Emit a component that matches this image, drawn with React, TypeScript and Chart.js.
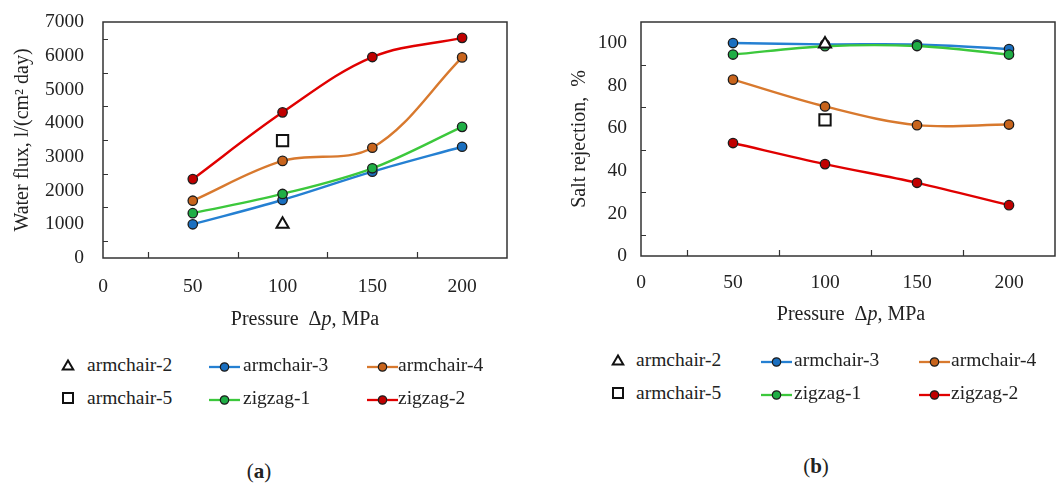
import React, { useEffect, useRef } from 'react';
import { Chart, registerables } from 'chart.js';

Chart.register(...registerables);

const FONT = "'Liberation Serif', 'Times New Roman', serif";
const TEXT = '#222222';
const FRAME = '#333333';

// ---------- data ----------
const pressure = [50, 100, 150, 200];
const singlePressure = [100];
const seriesNames = ['armchair-2', 'armchair-3', 'armchair-4', 'armchair-5', 'zigzag-1', 'zigzag-2'];

// (a) water flux, l/(cm2 day)
const fluxArmchair2 = [1000];
const fluxArmchair5 = [3480];
const fluxArmchair3 = [1000, 1720, 2560, 3300];
const fluxArmchair4 = [1700, 2880, 3270, 5950];
const fluxZigzag1 = [1330, 1900, 2660, 3890];
const fluxZigzag2 = [2340, 4320, 5960, 6530];

// (b) salt rejection, %
const rejArmchair2 = [99.7];
const rejArmchair5 = [64.0];
const rejArmchair3 = [100.1, 99.5, 99.4, 97.3];
const rejArmchair4 = [82.9, 70.3, 61.5, 61.8];
const rejZigzag1 = [94.7, 98.6, 98.7, 94.7];
const rejZigzag2 = [53.1, 43.2, 34.4, 23.9];

// colours
const lineColors = { a3: '#2580d2', a4: '#d8792e', z1: '#3cc83c', z2: '#e00000' };
const markerColors = { a3: '#1a6fc0', a4: '#c8641c', z1: '#1fae45', z2: '#c00000' };

const toPts = (xs: number[], ys: number[]) => ys.map((y, i) => ({ x: xs[i], y }));

function lineDs(label: string, ys: number[], color: string, marker: string) {
  return {
    label,
    data: toPts(pressure, ys),
    showLine: true,
    borderColor: color,
    backgroundColor: marker,
    borderWidth: 2.4,
    tension: 0.35,
    fill: false,
    pointRadius: 4.7,
    pointStyle: 'circle',
    pointBackgroundColor: marker,
    pointBorderColor: '#1c1c1c',
    pointBorderWidth: 1.3,
  };
}

function markerDs(label: string, ys: number[], style: string, radius: number) {
  return {
    label,
    data: toPts(singlePressure, ys),
    showLine: false,
    borderColor: '#111',
    backgroundColor: '#fff',
    pointStyle: style,
    pointRadius: radius,
    pointBackgroundColor: '#fff',
    pointBorderColor: '#111',
    pointBorderWidth: 2,
  };
}

const framePlugin = {
  id: 'frame',
  beforeDatasetsDraw(chart: any, _args: any, opts: any) {
    const { ctx, chartArea: a, scales } = chart;
    ctx.save();
    ctx.strokeStyle = FRAME;
    ctx.lineWidth = 1.5;
    ctx.strokeRect(a.left, a.top, a.right - a.left, a.bottom - a.top);
    ctx.lineWidth = 1.2;
    ctx.beginPath();
    const xs = scales.x;
    for (let v = opts.xMinorStart; v < xs.max; v += opts.xMinorStep) {
      const px = Math.round(xs.getPixelForValue(v)) + 0.5;
      ctx.moveTo(px, a.bottom);
      ctx.lineTo(px, a.bottom - 6);
    }
    const ys = scales.y;
    for (let v = opts.yMinorStart; v < ys.max; v += opts.yMinorStep) {
      const py = Math.round(ys.getPixelForValue(v)) + 0.5;
      ctx.moveTo(a.left, py);
      ctx.lineTo(a.left + 5, py);
    }
    ctx.stroke();
    ctx.restore();
  },
};

interface Cfg {
  datasets: any[];
  yMax: number;
  yStep: number;
  yMinorStart: number;
  yMinorStep: number;
  yTitle: string;
  yTitlePad: number;
  yWidth: number;
  yTickPad: number;
  xHeight: number;
  xTickPad: number;
  padTop: number;
  padRight: number;
}

function buildConfig(cfg: Cfg): any {
  const font = { family: FONT, size: 19.5 };
  return {
    type: 'line',
    data: { datasets: cfg.datasets },
    plugins: [framePlugin],
    options: {
      animation: false,
      responsive: false,
      devicePixelRatio: 1,
      layout: { padding: { left: 0, top: cfg.padTop, right: cfg.padRight, bottom: 0 } },
      plugins: {
        legend: { display: false },
        tooltip: { enabled: false },
        frame: { xMinorStart: 25, xMinorStep: 50, yMinorStart: cfg.yMinorStart, yMinorStep: cfg.yMinorStep },
      },
      scales: {
        x: {
          type: 'linear',
          min: 0,
          max: 225,
          border: { display: false },
          grid: { display: false, drawTicks: true, tickLength: cfg.xTickPad, color: 'rgba(0,0,0,0)' },
          ticks: {
            stepSize: 50,
            includeBounds: false,
            autoSkip: false,
            maxRotation: 0,
            padding: 0,
            color: TEXT,
            font,
            callback: (v: number) => (v % 50 === 0 ? String(v) : ''),
          },
          afterFit: (s: any) => {
            s.height = cfg.xHeight;
          },
        },
        y: {
          type: 'linear',
          min: 0,
          max: cfg.yMax,
          border: { display: false },
          grid: { display: false, drawTicks: true, tickLength: cfg.yTickPad, color: 'rgba(0,0,0,0)' },
          ticks: {
            stepSize: cfg.yStep,
            includeBounds: false,
            autoSkip: false,
            padding: 0,
            color: TEXT,
            font,
            callback: (v: number) => (v % cfg.yStep === 0 ? String(v) : ''),
          },
          title: {
            display: true,
            text: cfg.yTitle,
            color: TEXT,
            font: { family: FONT, size: 20 },
            padding: { top: cfg.yTitlePad, bottom: 0 },
          },
          afterFit: (s: any) => {
            s.width = cfg.yWidth;
          },
        },
      },
    },
  };
}

function ChartCanvas({ left, top, width, height, cfg }: { left: number; top: number; width: number; height: number; cfg: Cfg }) {
  const ref = useRef<HTMLCanvasElement>(null);
  useEffect(() => {
    const chart = new Chart(ref.current as HTMLCanvasElement, buildConfig(cfg));
    return () => chart.destroy();
  }, []);
  return (
    <canvas
      ref={ref}
      width={width}
      height={height}
      style={{ position: 'absolute', left, top, width, height, display: 'block' }}
    />
  );
}

const textStyle: React.CSSProperties = {
  position: 'absolute',
  fontFamily: FONT,
  fontSize: 19.5,
  color: TEXT,
  lineHeight: 1,
  whiteSpace: 'nowrap',
};

function Symbol({ kind, color, marker }: { kind: string; color?: string; marker?: string }) {
  if (kind === 'triangle')
    return (
      <svg width={14} height={14}>
        <polygon points="7,2.5 12.3,11.5 1.7,11.5" fill="#fff" stroke="#111" strokeWidth={2} />
      </svg>
    );
  if (kind === 'square')
    return (
      <svg width={14} height={14}>
        <rect x={2} y={2} width={10} height={10} fill="#fff" stroke="#111" strokeWidth={2} />
      </svg>
    );
  return (
    <svg width={31} height={12}>
      <line x1={0} y1={6} x2={31} y2={6} stroke={color} strokeWidth={2.3} />
      <circle cx={15.5} cy={6} r={4.2} fill={marker} stroke="#1c1c1c" strokeWidth={1.2} />
    </svg>
  );
}

function Legend({ rows, cols }: { rows: number[]; cols: { sym: number; text: number }[] }) {
  const items = [
    { name: seriesNames[0], kind: 'triangle', r: 0, c: 0 },
    { name: seriesNames[1], kind: 'line', color: lineColors.a3, marker: markerColors.a3, r: 0, c: 1 },
    { name: seriesNames[2], kind: 'line', color: lineColors.a4, marker: markerColors.a4, r: 0, c: 2 },
    { name: seriesNames[3], kind: 'square', r: 1, c: 0 },
    { name: seriesNames[4], kind: 'line', color: lineColors.z1, marker: markerColors.z1, r: 1, c: 1 },
    { name: seriesNames[5], kind: 'line', color: lineColors.z2, marker: markerColors.z2, r: 1, c: 2 },
  ];
  return (
    <>
      {items.map((it) => {
        const y = rows[it.r];
        const col = cols[it.c];
        const symW = it.kind === 'line' ? 31 : 14;
        const symH = it.kind === 'line' ? 12 : 14;
        const symLeft = it.kind === 'line' ? col.sym : col.sym - 7;
        return (
          <React.Fragment key={it.name}>
            <div style={{ position: 'absolute', left: symLeft, top: y - symH / 2, width: symW, height: symH }}>
              <Symbol kind={it.kind} color={(it as any).color} marker={(it as any).marker} />
            </div>
            <div style={{ ...textStyle, left: col.text, top: y, transform: 'translateY(-50%)' }}>{it.name}</div>
          </React.Fragment>
        );
      })}
    </>
  );
}

export default function App() {
  const cfgA: Cfg = {
    datasets: [
      markerDs(seriesNames[0], fluxArmchair2, 'triangle', 7),
      markerDs(seriesNames[3], fluxArmchair5, 'rect', 8),
      lineDs(seriesNames[4], fluxZigzag1, lineColors.z1, markerColors.z1),
      lineDs(seriesNames[1], fluxArmchair3, lineColors.a3, markerColors.a3),
      lineDs(seriesNames[2], fluxArmchair4, lineColors.a4, markerColors.a4),
      lineDs(seriesNames[5], fluxZigzag2, lineColors.z2, markerColors.z2),
    ],
    yMax: 7000,
    yStep: 1000,
    yMinorStart: 500,
    yMinorStep: 1000,
    yTitle: 'Water flux, l/(cm\u00B2 day)',
    yTitlePad: 11,
    yWidth: 103,
    yTickPad: 19,
    xHeight: 82,
    xTickPad: 17.3,
    padTop: 22,
    padRight: 23,
  };
  const cfgB: Cfg = {
    datasets: [
      markerDs(seriesNames[0], rejArmchair2, 'triangle', 7),
      markerDs(seriesNames[3], rejArmchair5, 'rect', 8),
      lineDs(seriesNames[4], rejZigzag1, lineColors.z1, markerColors.z1),
      lineDs(seriesNames[1], rejArmchair3, lineColors.a3, markerColors.a3),
      lineDs(seriesNames[2], rejArmchair4, lineColors.a4, markerColors.a4),
      lineDs(seriesNames[5], rejZigzag2, lineColors.z2, markerColors.z2),
    ],
    yMax: 110,
    yStep: 20,
    yMinorStart: 10,
    yMinorStep: 20,
    yTitle: 'Salt rejection,  %',
    yTitlePad: 38,
    yWidth: 111,
    yTickPad: 14,
    xHeight: 84,
    xTickPad: 15.3,
    padTop: 22,
    padRight: 4,
  };

  return (
    <div
      style={{
        position: 'fixed',
        left: 0,
        top: 0,
        width: 1058,
        height: 484,
        overflow: 'hidden',
        background: '#fff',
      }}
    >
      <ChartCanvas left={0} top={0} width={530} height={340} cfg={cfgA} />
      <ChartCanvas left={530} top={0} width={535} height={340} cfg={cfgB} />

      <div style={{ ...textStyle, fontSize: 20, left: 305, top: 318, transform: 'translate(-50%, -50%)' }}>
        Pressure&nbsp; Δ<i>p</i>, MPa
      </div>
      <div style={{ ...textStyle, fontSize: 20, left: 851, top: 313, transform: 'translate(-50%, -50%)' }}>
        Pressure&nbsp; Δ<i>p</i>, MPa
      </div>

      <Legend
        rows={[365, 398]}
        cols={[
          { sym: 68, text: 87 },
          { sym: 209, text: 243 },
          { sym: 367, text: 398 },
        ]}
      />
      <Legend
        rows={[360, 393]}
        cols={[
          { sym: 618, text: 636 },
          { sym: 761, text: 794 },
          { sym: 919, text: 951 },
        ]}
      />

      <div style={{ ...textStyle, fontSize: 21, left: 259, top: 471, transform: 'translate(-50%, -50%)' }}>
        (<b>a</b>)
      </div>
      <div style={{ ...textStyle, fontSize: 21, left: 816, top: 466, transform: 'translate(-50%, -50%)' }}>
        (<b>b</b>)
      </div>
    </div>
  );
}
